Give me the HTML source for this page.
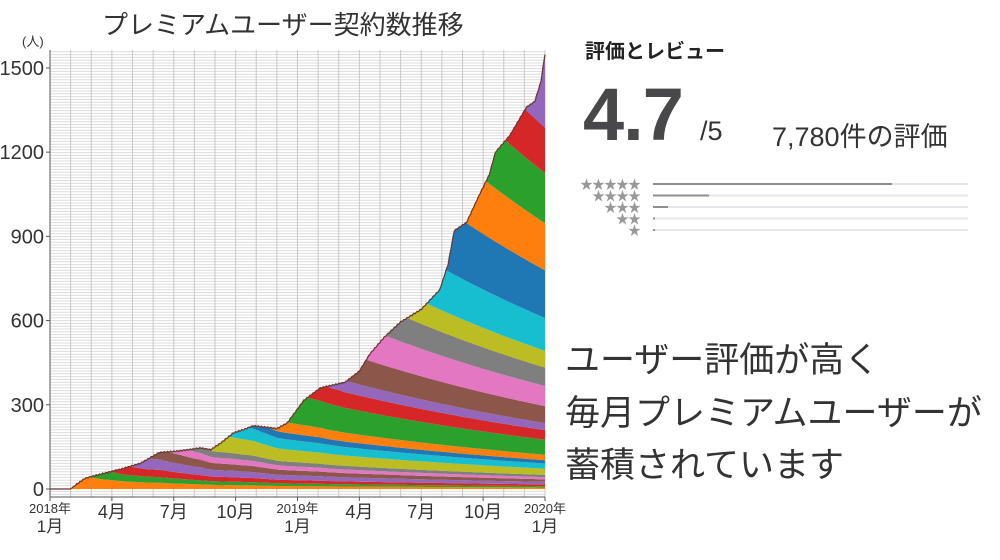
<!DOCTYPE html>
<html><head><meta charset="utf-8"><style>
body{margin:0;width:1000px;height:560px;background:#fff;overflow:hidden;position:relative;font-family:"Liberation Sans","Noto Sans CJK JP",sans-serif;color:#333}
.a{position:absolute;white-space:nowrap}
</style></head><body>
<svg id="c" width="1000" height="560" style="position:absolute;left:0;top:0"></svg>
<div class="a" style="left:102px;top:5px;font-size:26px;color:#333;">プレミアムユーザー契約数推移</div>
<div class="a" style="left:585px;top:35px;font-size:20px;font-weight:bold;color:#222">評価とレビュー</div>
<div class="a" style="left:583px;top:72px;font-size:74px;font-weight:bold;color:#48484a;letter-spacing:-1px">4.7</div>
<div class="a" style="left:700px;top:116px;font-size:27px;color:#333">/5</div>
<div class="a" style="left:772px;top:115px;font-size:27px;color:#333">7,780件の評価</div>
<div class="a" style="left:565px;top:332px;font-size:35px;color:#333">ユーザー評価が高く</div>
<div class="a" style="left:565px;top:385px;font-size:35px;color:#333">毎月プレミアムユーザーが</div>
<div class="a" style="left:565px;top:437px;font-size:35px;color:#333">蓄積されています</div>
<script>
(function(){
const svg=document.getElementById('c');
let h='';
const X0=50,X1=545,Y0=489,K=0.2807;
const xm=t=>X0+t*(X1-X0)/24, yv=v=>Y0-v*K;
h+=`<rect x="${X0}" y="50" width="${X1-X0}" height="447" fill="#fff"/>`;
for(let y=497;y>50;y-=2.8)h+=`<line x1="${X0}" x2="${X1}" y1="${y}" y2="${y}" stroke="#dcdcdc" stroke-width="1"/>`;
for(let m=0;m<=24;m++)h+=`<line x1="${xm(m)}" x2="${xm(m)}" y1="50" y2="497" stroke="#c8c8c8" stroke-width="1"/>`;
const kn=[[0,0],[1.0,0],[1.2,12],[1.7,38],[2.4,52],[3.5,72],[4.4,92],[5.3,130],[6.2,135],[7.3,146],[7.8,140],[8.3,165],[8.9,200],[9.4,212],[9.85,225],[10.5,220],[11,215],[11.5,235],[12.3,315],[13.1,360],[14.3,380],[15,420],[15.5,480],[16.2,540],[17,595],[18,640],[18.9,710],[19.3,800],[19.6,920],[20.2,950],[20.8,1045],[21.3,1120],[21.6,1200],[22.3,1260],[23.1,1360],[23.5,1380],[23.8,1450],[24,1550]];
function T(t){for(let i=1;i<kn.length;i++){if(t<=kn[i][0]){const a=kn[i-1][0],b=kn[i-1][1],c=kn[i][0],d=kn[i][1];return b+(d-b)*(t-a)/(c-a);}}return 1550;}
const cols=['#1f77b4','#ff7f0e','#2ca02c','#d62728','#9467bd','#8c564b','#e377c2','#7f7f7f','#bcbd22','#17becf'];
const dt=0.05,N=Math.round(24/dt);let coh=new Array(26).fill(0);const hist=[];
const dec=Math.pow(0.95,dt);
for(let s=0;s<=N;s++){const t=s*dt;const tot=Math.max(0,T(t)+(t>1.2?Math.sin(t*40)*2:0));
 coh=coh.map(v=>v*dec);const sum=coh.reduce((a,b)=>a+b,0);
 const m=Math.min(24,Math.floor(t*1.04));
 if(tot>sum)coh[m]+=tot-sum;else if(sum>0)coh=coh.map(v=>v*tot/sum);
 hist.push([t,coh.slice()]);}
let topLine=[];
for(let k=0;k<=24;k++){
 const up=[],lo=[];
 hist.forEach(e=>{const t=e[0],c=e[1];let b=0;for(let j=0;j<k;j++)b+=c[j];up.push([xm(t),yv(b+c[k])]);lo.push([xm(t),yv(b)]);});
 const pts=up.concat(lo.slice().reverse()).map(p=>p[0].toFixed(1)+','+p[1].toFixed(1)).join(' ');
 h+=`<polygon points="${pts}" fill="${cols[k%10]}"/>`;
 if(k==24)topLine=up;}
h+=`<polyline points="${topLine.map(p=>p[0].toFixed(1)+','+p[1].toFixed(1)).join(' ')}" fill="none" stroke="#6b3a35" stroke-width="1.3"/>`;
h+=`<line x1="${X0}" x2="${X0}" y1="50" y2="497" stroke="#555"/><line x1="${X0}" x2="${X1}" y1="497" y2="497" stroke="#555"/>`;
[0,300,600,900,1200,1500].forEach(v=>{const y=yv(v);h+=`<line x1="${X0-4}" x2="${X0}" y1="${y}" y2="${y}" stroke="#555"/><text x="${X0-6}" y="${y+7}" font-size="20" text-anchor="end" fill="#333">${v}</text>`;});
h+=`<text x="22" y="46" font-size="13" fill="#333">(人)</text>`;
const xl=[[0,'2018年','1月'],[3,'4月'],[6,'7月'],[9,'10月'],[12,'2019年','1月'],[15,'4月'],[18,'7月'],[21,'10月'],[24,'2020年','1月']];
xl.forEach(l=>{const x=xm(l[0]);h+=`<line x1="${x}" x2="${x}" y1="497" y2="501" stroke="#555"/>`;
 if(l.length==3){h+=`<text x="${x}" y="513" font-size="13" text-anchor="middle" fill="#333">${l[1]}</text><text x="${x}" y="532" font-size="17" text-anchor="middle" fill="#333">${l[2]}</text>`;}
 else h+=`<text x="${x}" y="518" font-size="18" text-anchor="middle" fill="#333">${l[1]}</text>`;});
const bars=[892,709,668,655,655];
for(let i=0;i<5;i++){const y=184+i*11.5;const n=5-i;
 h+=`<text x="640" y="${y+5}" font-size="13" text-anchor="end" fill="#999" letter-spacing="-1">${'★'.repeat(n)}</text>`;
 h+=`<line x1="653" x2="968" y1="${y}" y2="${y}" stroke="#e5e5ea" stroke-width="2"/>`;
 h+=`<line x1="653" x2="${bars[i]}" y1="${y}" y2="${y}" stroke="#8e8e93" stroke-width="2"/>`;}
svg.innerHTML=h;
})();
</script>
</body></html>
